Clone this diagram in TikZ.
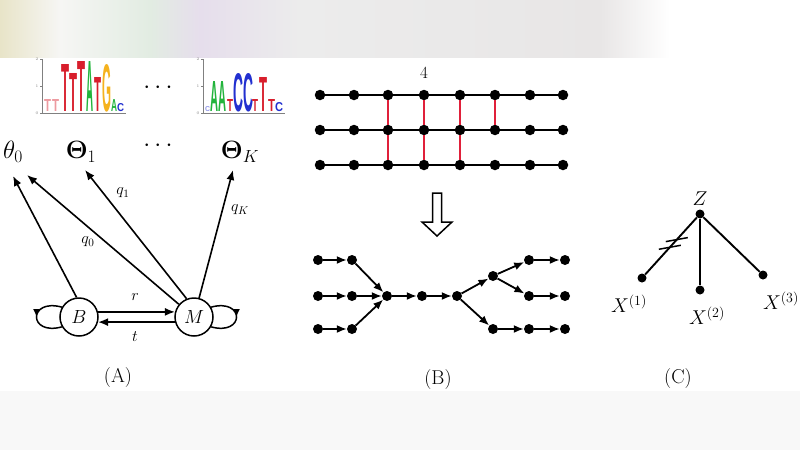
\RequirePackage{fix-cm}
\documentclass[tikz,border=0pt]{standalone}
\usepackage{amsmath,bm}
\usepackage{graphicx}
\usepackage{fontspec}
\newfontfamily\logofont{Liberation Sans}
\usetikzlibrary{arrows.meta,decorations.markings,calc}
\definecolor{lred}{HTML}{D81E2C}
\definecolor{lgreen}{HTML}{22B43C}
\definecolor{lblue}{HTML}{2230D0}
\definecolor{lorange}{HTML}{F5B21E}
\definecolor{redge}{HTML}{E0203A}
\definecolor{bgA}{RGB}{232,228,200}
\definecolor{bgB}{RGB}{246,246,244}
\definecolor{bgC}{RGB}{226,236,226}
\definecolor{bgD}{RGB}{230,222,236}
\definecolor{bgE}{RGB}{236,236,236}
\definecolor{bgF}{RGB}{232,230,230}
\definecolor{bgG}{RGB}{248,248,248}
\newcommand{\logoL}[6]{\node[anchor=south west,inner sep=0pt] at (#1,#2) {\textcolor{#5}{\resizebox{#3pt}{#4pt}{\logofont\bfseries #6}}};}
\begin{document}
\begin{tikzpicture}[x=1pt,y=-1pt,
  biglbl/.style={inner sep=1pt,font=\fontsize{25}{29}\selectfont},
  smlbl/.style={inner sep=1pt,font=\fontsize{16}{18}\selectfont},
  captxt/.style={inner sep=1pt,font=\fontsize{20}{23}\selectfont},
  xlbl/.style={inner sep=1pt,font=\fontsize{20}{23}\selectfont},
  ticktxt/.style={inner sep=0pt,font=\fontsize{4}{5}\selectfont,text=gray},
  edge/.style={line width=1.6pt,-{Latex[length=10pt,width=8pt]}},
  loopedge/.style={line width=1.5pt,decoration={markings,mark=at position 0.5 with {\arrow{Latex[length=8pt,width=7pt]}}},postaction={decorate}},
  state/.style={circle,draw,line width=1.5pt,minimum size=38pt,inner sep=0pt,font=\fontsize{19}{21}\selectfont},
  dot/.style={circle,fill=black,inner sep=0pt,minimum size=10.5pt},
  sdot/.style={circle,fill=black,inner sep=0pt,minimum size=10pt},
  hline/.style={line width=1.8pt},
  redline/.style={line width=1.9pt,redge},
  tarrow/.style={line width=1.8pt,-{Latex[length=10pt,width=8pt]}},
  cline/.style={line width=1.9pt}]
\useasboundingbox (0,0) rectangle (800,450);
% background bands
\fill[white] (0,0) rectangle (800,450);
\shade[left color=bgA, right color=bgB] (0,0) rectangle (60,57);
\shade[left color=bgB, right color=bgC] (60,0) rectangle (150,57);
\shade[left color=bgC, right color=bgD] (150,0) rectangle (200,57);
\shade[left color=bgD, right color=bgE] (200,0) rectangle (300,57);
\shade[left color=bgE, right color=bgF] (300,0) rectangle (600,57);
\shade[left color=bgF, right color=white] (600,0) rectangle (670,57);
\fill[white] (670,0) rectangle (800,57);
\fill[bgG] (0,391) rectangle (800,450);

% ---------- Panel A: sequence logos ----------
\draw[gray,line width=0.5pt] (42,59) -- (42,113) -- (126,113);
\draw[gray,line width=0.5pt] (203,59) -- (203,113) -- (285,113);
\foreach \yy/\tt in {59/2,86/1,113/0}{
  \draw[gray,line width=0.4pt] (40,\yy) -- (42,\yy);
  \node[ticktxt] at (37,\yy) {\tt};
  \draw[gray,line width=0.4pt] (201,\yy) -- (203,\yy);
  \node[ticktxt] at (198,\yy) {\tt};
}
\logoL{44}{112}{7}{12}{lred!45}{T}
\logoL{52}{112}{7}{12}{lred!45}{T}
\logoL{61}{112}{8}{47}{lred}{T}
\logoL{69}{112}{8}{38}{lred}{T}
\logoL{77}{112}{8}{50}{lred}{T}
\logoL{86}{112}{7}{50}{lgreen}{A}
\logoL{94}{112}{7}{34}{lred}{T}
\logoL{102}{112}{9}{47}{lorange}{G}
\logoL{111}{112}{6}{12}{lgreen}{A}
\logoL{117}{112}{7}{8}{lblue}{C}
\logoL{205}{112}{5}{5}{lblue!50}{C}
\logoL{210}{112}{8}{30}{lgreen}{A}
\logoL{218}{112}{8}{30}{lgreen}{A}
\logoL{227}{112}{6}{12}{lred}{T}
\logoL{233}{112}{10}{38}{lblue}{C}
\logoL{243}{112}{10}{38}{lblue}{C}
\logoL{252}{112}{6}{12}{lred}{T}
\logoL{259}{112}{8}{34}{lred}{T}
\logoL{268}{112}{7}{12}{lred}{T}
\logoL{275}{112}{8}{9}{lblue}{C}
\node[biglbl] (ldots) at (160,88) {$\cdots$};

% ---------- Panel A: model ----------
\node[biglbl] (th0) at (13,152) {$\theta_0$};
\node[biglbl] (T1) at (81,152) {$\bm{\Theta}_1$};
\node[biglbl] (dotsA) at (160,146) {$\cdots$};
\node[biglbl] (TK) at (240,152) {$\bm{\Theta}_K$};
\coordinate (th0a) at (13,176);
\coordinate (th0b) at (27,175);
\coordinate (T1a) at (85,170);
\coordinate (TKa) at (233,170);
\node[state] (B) at (79,317) {$B$};
\node[state] (M) at (194,317) {$M$};
\draw[edge] (B.97) -- (th0a);
\draw[edge] (M.140) -- (th0b);
\draw[edge] (M.112) -- (T1a);
\draw[edge] (M.75) -- (TKa);
\draw[edge] (B.15) -- (M.165);
\draw[edge] (M.195) -- (B.345);
\draw[loopedge] (B.150) .. controls (28,298) and (28,336) .. (B.210);
\draw[loopedge] (M.30) .. controls (245,298) and (245,336) .. (M.330);
\node[smlbl] (q0) at (88,242) {$q_0$};
\node[smlbl] (q1) at (123,193) {$q_1$};
\node[smlbl] (qK) at (240,210) {$q_K$};
\node[smlbl] (rl) at (135,297) {$r$};
\node[smlbl] (tl) at (135,337) {$t$};
\node[captxt] (capA) at (118,378) {(A)};

% ---------- Panel B: top grid ----------
\node[captxt,font=\fontsize{17}{19}\selectfont] (four) at (424,73) {4};
\foreach \r/\y in {1/95,2/130,3/165}{
  \foreach \c/\x in {1/320,2/354,3/388,4/424,5/460,6/495,7/530,8/563}{
    \node[dot] (g\r\c) at (\x,\y) {};
  }
}
\foreach \r in {1,2,3}{
  \foreach \c [evaluate=\c as \d using int(\c+1)] in {1,...,7}{
    \draw[hline] (g\r\c) -- (g\r\d);
  }
}
\foreach \c in {3,4,5}{
  \draw[redline] (g1\c) -- (g2\c);
  \draw[redline] (g2\c) -- (g3\c);
}
\draw[redline] (g16) -- (g26);
% hollow down arrow
\draw[line width=1.5pt,fill=white] (432.5,193) -- (441.5,193) -- (441.5,222) -- (452,222) -- (437,236) -- (422,222) -- (432.5,222) -- cycle;

% ---------- Panel B: bottom tree ----------
\node[sdot] (l11) at (318,260) {};
\node[sdot] (l12) at (352,260) {};
\node[sdot] (l21) at (318,296) {};
\node[sdot] (l22) at (352,296) {};
\node[sdot] (l31) at (318,329) {};
\node[sdot] (l32) at (352,329) {};
\node[sdot] (h1) at (387,296) {};
\node[sdot] (h2) at (422,296) {};
\node[sdot] (h3) at (457,296) {};
\node[sdot] (br) at (493,276) {};
\node[sdot] (u1) at (529,260) {};
\node[sdot] (u2) at (565,260) {};
\node[sdot] (m1) at (529,296) {};
\node[sdot] (m2) at (565,296) {};
\node[sdot] (d0) at (493,329) {};
\node[sdot] (d1) at (529,329) {};
\node[sdot] (d2) at (565,329) {};
\draw[tarrow] (l11) -- (l12);
\draw[tarrow] (l21) -- (l22);
\draw[tarrow] (l31) -- (l32);
\draw[tarrow] (l12) -- (h1);
\draw[tarrow] (l22) -- (h1);
\draw[tarrow] (l32) -- (h1);
\draw[tarrow] (h1) -- (h2);
\draw[tarrow] (h2) -- (h3);
\draw[tarrow] (h3) -- (br);
\draw[tarrow] (h3) -- (d0);
\draw[tarrow] (br) -- (u1);
\draw[tarrow] (br) -- (m1);
\draw[tarrow] (u1) -- (u2);
\draw[tarrow] (m1) -- (m2);
\draw[tarrow] (d0) -- (d1);
\draw[tarrow] (d1) -- (d2);
\node[captxt] (capB) at (438,380) {(B)};

% ---------- Panel C ----------
\node[xlbl] (Zl) at (700,199) {$Z$};
\node[sdot,minimum size=9pt] (Z) at (700,214) {};
\node[sdot,minimum size=9pt] (X1) at (642,278) {};
\node[sdot,minimum size=9pt] (X2) at (700,290) {};
\node[sdot,minimum size=9pt] (X3) at (763,275) {};
\draw[cline] (Z) -- (X1);
\draw[cline] (Z) -- (X2);
\draw[cline] (Z) -- (X3);
\coordinate (hs1) at ($(Z)!0.40!(X1)$);
\coordinate (hs2) at ($(Z)!0.52!(X1)$);
\draw[line width=1.5pt] ([shift={(-11,2)}]hs1) -- ([shift={(11,-2)}]hs1);
\draw[line width=1.5pt] ([shift={(-11,2)}]hs2) -- ([shift={(11,-2)}]hs2);
\node[xlbl] (x1l) at (629,304) {$X^{(1)}$};
\node[xlbl] (x2l) at (707,316) {$X^{(2)}$};
\node[xlbl] (x3l) at (781,301) {$X^{(3)}$};
\node[captxt] (capC) at (678,379) {(C)};
\end{tikzpicture}
\end{document}
